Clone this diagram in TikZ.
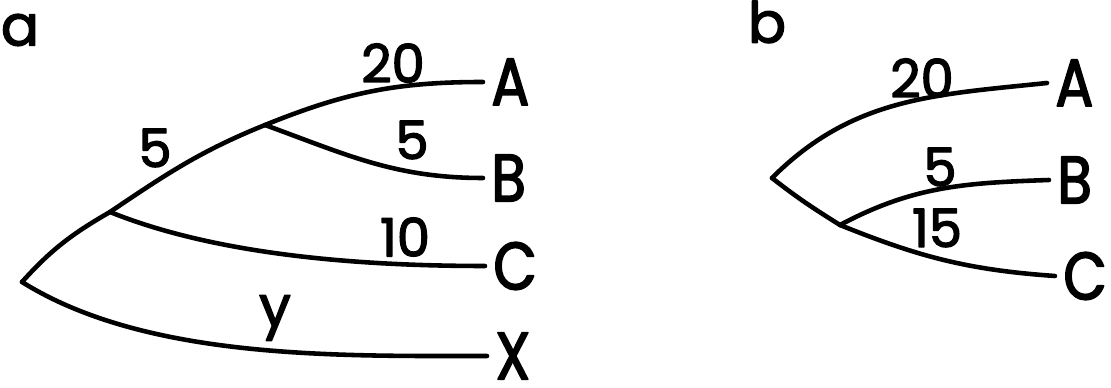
\documentclass[tikz,border=0pt]{standalone}
\usepackage{fontspec}
\setmainfont{Poppins}[FakeBold=2.5]
\newfontfamily\leaffont{Poppins}[FakeStretch=0.84,FakeBold=2.5]
\tikzset{
    lab/.style={
        font=\fontsize{15}{18}\selectfont, inner sep=0pt
    },
    leaf/.style={
        font=\leaffont\fontsize{19}{23}\selectfont, anchor=west,
        inner xsep=2.2pt, inner ysep=0pt
    },
    panel/.style={
        font=\fontsize{16}{19}\selectfont, inner sep=0pt
    },
    branch/.style={
        line width=1.3pt
    }
}

\begin{document}
\begin{tikzpicture}[x=0.01cm,y=0.01cm,line cap=round,line join=round]

% page frame (no visible border)
    \useasboundingbox (0,0) rectangle (1111,388);

% --- tree a ---
    \coordinate (ra) at (22,106);    % root
    \coordinate (n1) at (110,176);   % split off C
    \coordinate (n2) at (265,263);   % split of A and B

    \node[leaf] (aA) at (483,306) {A};
    \node[leaf] (aB) at (483,210) {B};
    \node[leaf] (aC) at (485,122) {C};
    \node[leaf] (aX) at (487,32)  {X};

    \draw[branch] (ra) to[out=48,in=210] (n1) to[out=34,in=202] (n2)
                       to[out=22,in=180] (aA.west);
    \draw[branch] (n2) to[out=-20,in=180] (aB.west);
    \draw[branch] (n1) to[out=-22,in=180,looseness=0.8] (aC.west);
    \draw[branch] (ra) to[out=-32,in=180,looseness=0.8] (aX.west);

% branch lengths of a
    \node[panel] (pa) at (20,358) {a};
    \node[lab] (l20a) at (393,325) {20};
    \node[lab] (l5b)  at (412,248) {5};
    \node[lab] (l5s)  at (155,240) {5};
    \node[lab] (l10)  at (405,151) {10};
    \node[panel] (ly) at (275,70) {y};

% --- tree b ---
    \coordinate (rb) at (772,210);   % root
    \coordinate (m1) at (840,163);   % split of B and C

    \node[leaf] (bA) at (1047,305) {A};
    \node[leaf] (bB) at (1049,208) {B};
    \node[leaf] (bC) at (1055,112) {C};

    \draw[branch] (rb) to[out=45,in=186] (bA.west);
    \draw[branch] (rb) to[out=-38,in=148] (m1);
    \draw[branch] (m1) to[out=28,in=182] (bB.west);
    \draw[branch] (m1) to[out=-22,in=176] (bC.west);

% branch lengths of b
    \node[panel] (pb) at (767,366) {b};
    \node[lab] (l20b) at (922,310) {20};
    \node[lab] (l5c)  at (940,221) {5};
    \node[lab] (l15)  at (937,160) {15};

\end{tikzpicture}
\end{document}
